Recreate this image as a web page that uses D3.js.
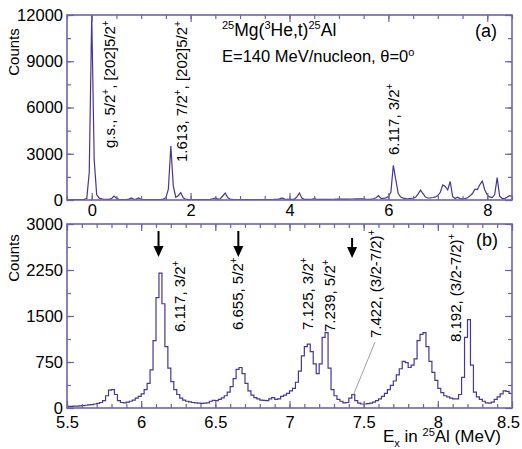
<!DOCTYPE html>
<head>
  <meta charset="utf-8">
  <script src="https://d3js.org/d3.v7.min.js"></script>
  <style>
    body { margin: 0; background: #fff; }
    svg { font-family: Arial, "Liberation Sans", Helvetica, sans-serif; }
    .axis path { display: none; }
    .axis line { stroke: #6f62aa; stroke-width: 1.2; }
    .axis text { fill: #000; font-size: 16.5px; }
    .frame { fill: none; stroke: #6f62aa; stroke-width: 1.6; }
    .spec { fill: none; stroke: #4a3590; stroke-width: 1.2; }
    .lab { font-size: 15px; fill: #000; }
  </style>
</head>
<body>
<script>
  // panel (a): full spectrum, one value every 0.05 MeV from -0.5 to 8.5 MeV
  var aStart = -0.5, aBin = 0.05;
  var aCounts = [
    20, 20, 20, 20, 25, 25, 30, 40, 90, 1800,
    12000, 2600, 350, 120, 70, 50, 40, 40, 90, 260,
    110, 40, 30, 30, 30, 60, 130, 50, 60, 130,
    40, 30, 25, 25, 25, 25, 30, 30, 40, 60,
    150, 700, 3500, 900, 180, 280, 480, 140, 50, 35,
    30, 25, 25, 25, 25, 25, 30, 30, 40, 80,
    140, 60, 80, 260, 450, 160, 50, 35, 30, 30,
    25, 25, 25, 25, 25, 25, 25, 25, 25, 30,
    30, 30, 30, 30, 35, 40, 70, 140, 60, 40,
    35, 35, 60, 200, 460, 120, 45, 40, 40, 50,
    90, 50, 40, 45, 50, 45, 45, 50, 50, 55,
    55, 60, 60, 60, 60, 65, 65, 70, 70, 80,
    70, 50, 50, 60, 80, 150, 280, 110, 100, 140,
    220, 500, 2250, 1300, 400, 190, 120, 90, 80, 100,
    130, 180, 380, 640, 420, 190, 130, 140, 160, 200,
    290, 500, 980, 880, 650, 1200, 220, 100, 180, 90,
    70, 90, 150, 270, 420, 700, 680, 1000, 1220, 650,
    330, 200, 160, 350, 1450, 250, 110, 90, 180, 280,
    240
  ];

  // panel (b): zoom 5.5 - 8.5 MeV, histogram bins of 0.02 MeV
  var bStart = 5.5, bBin = 0.02;
  var bCounts = [
    25, 28, 30, 32, 35, 40, 45, 50, 55, 65,
    75, 90, 120, 200, 290, 300, 220, 120, 90, 85,
    95, 110, 130, 160, 190, 230, 300, 400, 620, 1100,
    1800, 2200, 1700, 1000, 650, 430, 300, 220, 160, 130,
    110, 100, 90, 85, 80, 75, 80, 85, 110, 125,
    120, 140, 165, 200, 260, 350, 480, 630, 660, 560,
    400, 280, 210, 170, 150, 130, 125, 120, 150, 170,
    140, 150, 190, 210, 240, 280, 320, 420, 600, 850,
    1000, 1040, 920, 720, 560, 720, 1150, 1230, 650, 300,
    200, 140, 110, 85, 90, 160, 220, 120, 80, 65,
    65, 70, 80, 95, 120, 150, 190, 240, 300, 370,
    440, 540, 640, 760, 740, 660, 700, 800, 1100, 1200,
    1230, 1000, 760, 580, 450, 320, 250, 200, 180, 160,
    150, 150, 220, 500, 1150, 1440, 700, 260, 180, 140,
    110, 85, 80, 95, 140, 180, 230, 280, 270, 240
  ];

  var aXTicks = [0, 2, 4, 6, 8];
  var aYTicks = [0, 3000, 6000, 9000, 12000];
  var bXTicks = [5.5, 6, 6.5, 7, 7.5, 8, 8.5];
  var bYTicks = [0, 750, 1500, 2250, 3000];

  var aLabels = [
    { pre: "g.s., 5/2", s1: "+", mid: ", [202]5/2", s2: "+", x: 115, y: 148 },
    { pre: "1.613, 7/2", s1: "+", mid: ", [202]5/2", s2: "+", x: 187, y: 162 },
    { pre: "6.117, 3/2", s1: "+", mid: "", s2: "", x: 399, y: 155 }
  ];
  var bLabels = [
    { pre: "6.117, 3/2", s1: "+", x: 185, y: 332 },
    { pre: "6.655, 5/2", s1: "+", x: 243, y: 330 },
    { pre: "7.125, 3/2", s1: "+", x: 313, y: 330 },
    { pre: "7.239, 5/2", s1: "+", x: 335, y: 332 },
    { pre: "7.422, (3/2-7/2)", s1: "+", x: 381, y: 338 },
    { pre: "8.192, (3/2-7/2)", s1: "+", x: 461, y: 342 }
  ];
  var bArrows = [6.117, 6.655, 7.422];

  var W = 522, H = 449;
  var left = 67, right = 512;

  var svg = d3.select("body").append("svg")
      .attr("width", W)
      .attr("height", H);

  function panel(opt) {
    var x = d3.scaleLinear().domain(opt.xDomain).range([left, right]);
    var y = d3.scaleLinear().domain(opt.yDomain).range([opt.bottom, opt.top]);
    var g = svg.append("g");

    g.append("clipPath").attr("id", opt.id)
      .append("rect")
        .attr("x", left).attr("y", opt.top)
        .attr("width", right - left).attr("height", opt.bottom - opt.top);

    var pts = opt.counts.map(function(v, i) { return [opt.start + i * opt.bin, v]; });
    if (opt.step) {
      pts.push([opt.start + opt.counts.length * opt.bin, opt.counts[opt.counts.length - 1]]);
    }

    var line = d3.line()
        .x(function(d) { return x(d[0]); })
        .y(function(d) { return y(d[1]); })
        .curve(opt.step ? d3.curveStepAfter : d3.curveLinear);

    g.append("path")
        .attr("class", "spec")
        .attr("clip-path", "url(#" + opt.id + ")")
        .attr("d", line(pts));

    // ticks, all pointing inward
    var xMinor = d3.range(opt.xDomain[0], opt.xDomain[1] + 1e-9, opt.xMinor);
    var yMinor = d3.range(opt.yDomain[0], opt.yDomain[1] + 1e-9, opt.yMinor);

    g.append("g").attr("class", "axis")
        .attr("transform", "translate(0," + opt.bottom + ")")
        .call(d3.axisBottom(x).tickValues(xMinor).tickSize(-4).tickFormat(""));
    var xAx = g.append("g").attr("class", "axis")
        .attr("transform", "translate(0," + opt.bottom + ")")
        .call(d3.axisBottom(x).tickValues(opt.xTicks).tickSize(-7).tickPadding(opt.xPad)
          .tickFormat(d3.format("")));
    g.append("g").attr("class", "axis")
        .attr("transform", "translate(0," + opt.top + ")")
        .call(d3.axisTop(x).tickValues(xMinor).tickSize(-4).tickFormat(""));
    g.append("g").attr("class", "axis")
        .attr("transform", "translate(0," + opt.top + ")")
        .call(d3.axisTop(x).tickValues(opt.xTicks).tickSize(-7).tickFormat(""));

    g.append("g").attr("class", "axis")
        .attr("transform", "translate(" + left + ",0)")
        .call(d3.axisLeft(y).tickValues(yMinor).tickSize(-4).tickFormat(""));
    g.append("g").attr("class", "axis")
        .attr("transform", "translate(" + left + ",0)")
        .call(d3.axisLeft(y).tickValues(opt.yTicks).tickSize(-7).tickPadding(4)
          .tickFormat(d3.format("d")));
    g.append("g").attr("class", "axis")
        .attr("transform", "translate(" + right + ",0)")
        .call(d3.axisRight(y).tickValues(yMinor).tickSize(-4).tickFormat(""));
    g.append("g").attr("class", "axis")
        .attr("transform", "translate(" + right + ",0)")
        .call(d3.axisRight(y).tickValues(opt.yTicks).tickSize(-7).tickFormat(""));

    // last label hugs the right edge like in the original
    if (opt.lastShift) {
      xAx.selectAll(".tick text").filter(function(d) { return d === opt.xDomain[1]; })
          .attr("x", opt.lastShift);
    }

    g.append("rect").attr("class", "frame")
        .attr("x", left).attr("y", opt.top)
        .attr("width", right - left).attr("height", opt.bottom - opt.top);

    g.append("text")
        .attr("transform", "translate(19," + opt.countsY + ") rotate(-90)")
        .attr("text-anchor", "middle")
        .style("font-size", "15px")
        .text("Counts");

    return { g: g, x: x, y: y };
  }

  var pa = panel({
    id: "clipA", top: 15, bottom: 200, countsY: 52, xPad: 4,
    xDomain: [-0.5, 8.5], yDomain: [0, 12000],
    xTicks: aXTicks, yTicks: aYTicks, xMinor: 0.5, yMinor: 1500,
    counts: aCounts, start: aStart, bin: aBin, step: false
  });

  var pb = panel({
    id: "clipB", top: 224, bottom: 408, countsY: 258, xPad: 8, lastShift: -4,
    xDomain: [5.5, 8.5], yDomain: [0, 3000],
    xTicks: bXTicks, yTicks: bYTicks, xMinor: 0.1, yMinor: 375,
    counts: bCounts, start: bStart, bin: bBin, step: true
  });

  function rotLabel(g, d) {
    var t = g.append("text").attr("class", "lab")
        .attr("transform", "translate(" + d.x + "," + d.y + ") rotate(-90)");
    t.append("tspan").text(d.pre);
    t.append("tspan").attr("dy", -6).style("font-size", "10px").text(d.s1);
    if (d.mid) {
      t.append("tspan").attr("dy", 6).text(d.mid);
      t.append("tspan").attr("dy", -6).style("font-size", "10px").text(d.s2);
    }
  }

  aLabels.forEach(function(d) { rotLabel(pa.g, d); });
  bLabels.forEach(function(d) { rotLabel(pb.g, d); });

  // title text in (a)
  var t1 = pa.g.append("text").attr("x", 222).attr("y", 36).style("font-size", "17.5px");
  t1.append("tspan").attr("dy", -7).style("font-size", "11px").text("25");
  t1.append("tspan").attr("dy", 7).text("Mg(");
  t1.append("tspan").attr("dy", -7).style("font-size", "11px").text("3");
  t1.append("tspan").attr("dy", 7).text("He,t)");
  t1.append("tspan").attr("dy", -7).style("font-size", "11px").text("25");
  t1.append("tspan").attr("dy", 7).text("Al");

  var t2 = pa.g.append("text").attr("x", 222).attr("y", 62).style("font-size", "16.5px");
  t2.append("tspan").text("E=140 MeV/nucleon, \u03b8=0");
  t2.append("tspan").attr("dy", -6).style("font-size", "11px").text("o");

  pa.g.append("text").attr("x", 475).attr("y", 37).style("font-size", "18px").text("(a)");
  pb.g.append("text").attr("x", 476).attr("y", 246).style("font-size", "18px").text("(b)");

  // arrows in (b)
  bArrows.forEach(function(e, i) {
    var cx = pb.x(e);
    var y0 = i < 2 ? 231 : 238, y1 = i < 2 ? 257 : 258;
    pb.g.append("line")
        .attr("x1", cx).attr("x2", cx).attr("y1", y0).attr("y2", y1 - 8)
        .attr("stroke", "#000").attr("stroke-width", 2);
    pb.g.append("path")
        .attr("d", "M" + (cx - 5) + "," + (y1 - 11) + "L" + (cx + 5) + "," + (y1 - 11) + "L" + cx + "," + y1 + "Z")
        .attr("fill", "#000");
  });

  // leader line for 7.422
  pb.g.append("line")
      .attr("x1", 375).attr("y1", 342)
      .attr("x2", pb.x(7.422) + 1).attr("y2", pb.y(200))
      .attr("stroke", "#888").attr("stroke-width", 0.8);

  // x title
  var xt = pb.g.append("text").attr("x", 383).attr("y", 442).style("font-size", "17px");
  xt.append("tspan").text("E");
  xt.append("tspan").attr("dy", 5).style("font-size", "11px").text("x");
  xt.append("tspan").attr("dy", -5).text(" in ");
  xt.append("tspan").attr("dy", -6).style("font-size", "11px").text("25");
  xt.append("tspan").attr("dy", 6).text("Al (MeV)");
</script>
</body>
